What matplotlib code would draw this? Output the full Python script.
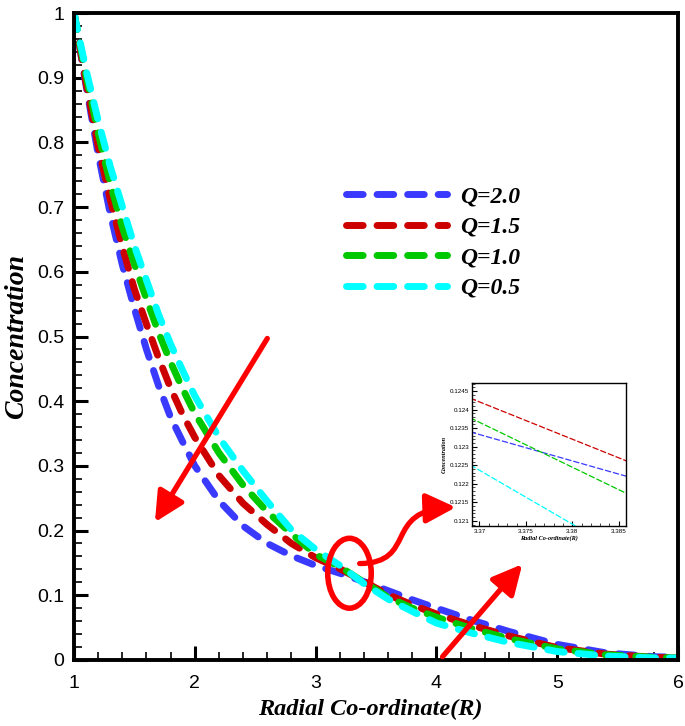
import matplotlib
matplotlib.use("Agg")
import matplotlib.pyplot as plt
from matplotlib.patches import Ellipse, FancyArrowPatch
from matplotlib.path import Path
from matplotlib.ticker import MultipleLocator, FuncFormatter

# radial positions and concentration
r = [1.0, 1.1, 1.2, 1.3, 1.4, 1.5, 1.6, 1.7, 1.8, 1.9, 2.0, 2.2, 2.4, 2.6,
     2.8, 3.0, 3.2, 3.4, 3.6, 3.8, 4.0, 4.3, 4.6, 5.0, 5.4, 5.8, 6.0]
c_q20 = [1.000, 0.888, 0.782, 0.690, 0.611, 0.543, 0.480, 0.424, 0.375, 0.337,
         0.300, 0.246, 0.207, 0.180, 0.161, 0.146, 0.134, 0.121, 0.107, 0.093,
         0.080, 0.061, 0.044, 0.024, 0.011, 0.005, 0.004]
c_q15 = [1.000, 0.891, 0.794, 0.712, 0.639, 0.573, 0.519, 0.467, 0.420, 0.379,
         0.344, 0.285, 0.242, 0.209, 0.180, 0.158, 0.141, 0.121, 0.101, 0.085,
         0.071, 0.053, 0.037, 0.019, 0.009, 0.004, 0.003]
c_q10 = [1.000, 0.904, 0.815, 0.737, 0.669, 0.612, 0.558, 0.506, 0.460, 0.419,
         0.381, 0.320, 0.270, 0.229, 0.195, 0.163, 0.144, 0.120, 0.097, 0.080,
         0.066, 0.048, 0.033, 0.017, 0.008, 0.004, 0.003]
c_q05 = [1.000, 0.912, 0.834, 0.763, 0.701, 0.640, 0.587, 0.534, 0.488, 0.447,
         0.408, 0.344, 0.292, 0.245, 0.201, 0.171, 0.146, 0.118, 0.094, 0.075,
         0.057, 0.041, 0.027, 0.013, 0.006, 0.003, 0.003]

# zoomed window (inset)
r_zoom = [3.369, 3.386]
z_q20 = [0.12340, 0.12219]
z_q15 = [0.12431, 0.12260]
z_q10 = [0.12378, 0.12172]
z_q05 = [0.12251, 0.12004]

labels = ["Q=2.0", "Q=1.5", "Q=1.0", "Q=0.5"]
colors = ["#3a3aff", "#cc0000", "#00c800", "#00ffff"]

serif_bi = dict(family="Liberation Serif", weight="bold", style="italic")
plt.rcParams["font.family"] = ["Liberation Sans", "DejaVu Sans"]

fig = plt.figure(figsize=(6.85, 7.26), dpi=100)
ax = fig.add_axes([0.108, 0.091, 0.882, 0.891])

for c, lab, col in zip([c_q20, c_q15, c_q10, c_q05], labels, colors):
    ax.plot(r, c, color=col, lw=5, dashes=(2.4, 2.0),
            dash_capstyle="round", label=lab)

ax.set_xlim(1, 6)
ax.set_ylim(0, 1)
ax.xaxis.set_major_locator(MultipleLocator(1))
ax.xaxis.set_minor_locator(MultipleLocator(0.2))
ax.yaxis.set_major_locator(MultipleLocator(0.1))
ax.yaxis.set_minor_locator(MultipleLocator(0.02))
ax.yaxis.set_major_formatter(FuncFormatter(lambda v, p: "%g" % round(v, 3)))
ax.tick_params(which="both", direction="in", top=False, right=False)
ax.tick_params(which="major", length=10, width=2.2, labelsize=14)
ax.tick_params(which="minor", length=6, width=1.2)
ax.tick_params(axis="x", pad=11)
ax.tick_params(axis="y", pad=7)
for s in ax.spines.values():
    s.set_linewidth(2.8)

ax.set_xlabel("Radial Co-ordinate(R)", fontsize=17.5, **serif_bi)
ax.xaxis.set_label_coords(0.49, -0.06)
ax.set_ylabel("Concentration", fontsize=20, **serif_bi)
ax.yaxis.set_label_coords(-0.075, 0.5)

leg = ax.legend(loc="upper left", bbox_to_anchor=(0.45, 0.733), frameon=False,
                handlelength=4.3, handletextpad=0.55, labelspacing=0.38,
                borderpad=0, borderaxespad=0,
                prop=dict(size=17, **serif_bi))

# red annotations
ax.add_patch(Ellipse((3.28, 0.134), 0.36, 0.108, fill=False, ec="red",
                     lw=4, zorder=6))
arrow = dict(arrowstyle="-|>,head_length=0.9,head_width=0.45", color="red",
             lw=3.8, mutation_scale=20, shrinkA=0, shrinkB=0)
ax.annotate("", xy=(1.67, 0.213), xytext=(2.60, 0.497), arrowprops=arrow,
            zorder=6)
ax.annotate("", xy=(4.71, 0.148), xytext=(4.05, 0.005), arrowprops=arrow,
            zorder=6)
curve = Path([(3.364, 0.149), (3.85, 0.150), (3.55, 0.232), (4.16, 0.236)],
             [Path.MOVETO, Path.CURVE4, Path.CURVE4, Path.CURVE4])
ax.add_patch(FancyArrowPatch(path=curve,
                             arrowstyle="-|>,head_length=0.9,head_width=0.45",
                             mutation_scale=20, color="red", lw=3.8, zorder=6))

# inset
axi = fig.add_axes([0.689, 0.2755, 0.225, 0.197])
for z, col in zip([z_q20, z_q15, z_q10, z_q05], colors):
    axi.plot(r_zoom, z, color=col, lw=0.9, dashes=(5, 1.6))
axi.set_xlim(3.3692, 3.3858)
axi.set_ylim(0.12086, 0.12472)
axi.xaxis.set_major_locator(MultipleLocator(0.005))
axi.xaxis.set_minor_locator(MultipleLocator(0.001))
axi.yaxis.set_major_locator(MultipleLocator(0.0005))
axi.yaxis.set_minor_locator(MultipleLocator(0.0001))
fmt = FuncFormatter(lambda v, p: "%g" % round(v, 5))
axi.xaxis.set_major_formatter(fmt)
axi.yaxis.set_major_formatter(fmt)
axi.tick_params(which="both", direction="in", top=False, right=False,
                labelsize=4.5, pad=2)
axi.tick_params(which="major", length=3.5, width=0.8)
axi.tick_params(which="minor", length=2, width=0.5)
for s in axi.spines.values():
    s.set_linewidth(1)
axi.set_xlabel("Radial Co-ordinate(R)", fontsize=4.5, labelpad=1, **serif_bi)
axi.set_ylabel("Concentration", fontsize=4.5, **serif_bi)
axi.yaxis.set_label_coords(-0.165, 0.5)

fig.savefig("out.png", dpi=100)
